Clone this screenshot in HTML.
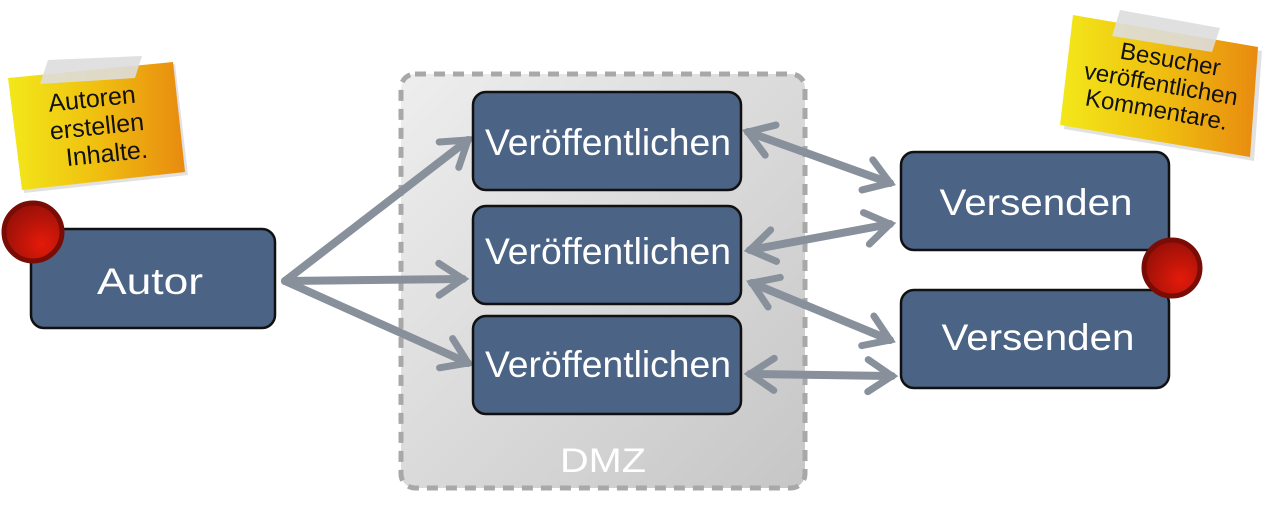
<!DOCTYPE html>
<html><head><meta charset="utf-8"><style>
html,body{margin:0;padding:0;background:#fff;width:1280px;height:511px;overflow:hidden}
svg{display:block}
text{font-family:"Liberation Sans","DejaVu Sans",sans-serif}
</style></head><body>
<svg width="1280" height="511" viewBox="0 0 1280 511" xmlns="http://www.w3.org/2000/svg">
<defs>
<linearGradient id="dmz" x1="0" y1="0" x2="1" y2="1">
<stop offset="0" stop-color="#eeeeee"/><stop offset="1" stop-color="#c6c6c6"/></linearGradient>
<linearGradient id="note" x1="0" y1="0" x2="1" y2="0">
<stop offset="0" stop-color="#f2e81a"/><stop offset="0.5" stop-color="#f0c010"/><stop offset="1" stop-color="#e88a10"/></linearGradient>
<radialGradient id="dot" cx="0.65" cy="0.7" r="0.7">
<stop offset="0" stop-color="#e41a0a"/><stop offset="1" stop-color="#9a1008"/></radialGradient>
<marker id="ah" viewBox="-30 -20 40 40" markerWidth="40" markerHeight="40" refX="0" refY="0" orient="auto-start-reverse" markerUnits="userSpaceOnUse">
<path d="M-24,-16 L0,0 L-24,16" fill="none" stroke="#87909b" stroke-width="7" stroke-linejoin="miter" stroke-linecap="round"/>
</marker>
</defs>

<rect x="401" y="74" width="404" height="414" rx="14" fill="url(#dmz)" stroke="#a8a8a8" stroke-width="5" stroke-dasharray="11 8"/>
<text x="603" y="472" font-size="34" fill="#fff" text-anchor="middle" textLength="86" lengthAdjust="spacingAndGlyphs">DMZ</text>

<g stroke="#87909b" stroke-width="8" fill="none" stroke-linecap="round">
<line x1="285" y1="281" x2="468" y2="140" marker-end="url(#ah)"/>
<line x1="285" y1="281" x2="463" y2="279" marker-end="url(#ah)"/>
<line x1="285" y1="281" x2="468" y2="363" marker-end="url(#ah)"/>
<line x1="748" y1="132" x2="890" y2="183" marker-start="url(#ah)" marker-end="url(#ah)"/>
<line x1="750" y1="250" x2="890" y2="224" marker-start="url(#ah)" marker-end="url(#ah)"/>
<line x1="752" y1="283" x2="890" y2="340" marker-start="url(#ah)" marker-end="url(#ah)"/>
<line x1="750" y1="374" x2="892" y2="376" marker-start="url(#ah)" marker-end="url(#ah)"/>
</g>

<g fill="#4b6384" stroke="#111" stroke-width="2.5">
<rect x="31" y="229" width="244" height="99" rx="13"/>
<rect x="473" y="92" width="268" height="98" rx="13"/>
<rect x="473" y="206" width="268" height="98" rx="13"/>
<rect x="473" y="316" width="268" height="98" rx="13"/>
<rect x="901" y="152" width="268" height="98" rx="13"/>
<rect x="901" y="290" width="268" height="98" rx="13"/>
</g>
<g fill="#fff" font-size="37" text-anchor="middle" lengthAdjust="spacingAndGlyphs">
<text x="150" y="294" textLength="106" lengthAdjust="spacingAndGlyphs">Autor</text>
<text x="608" y="155" textLength="246" lengthAdjust="spacingAndGlyphs">Veröffentlichen</text>
<text x="608" y="264" textLength="246" lengthAdjust="spacingAndGlyphs">Veröffentlichen</text>
<text x="608" y="377" textLength="246" lengthAdjust="spacingAndGlyphs">Veröffentlichen</text>
<text x="1036" y="215" textLength="193" lengthAdjust="spacingAndGlyphs">Versenden</text>
<text x="1038" y="350" textLength="193" lengthAdjust="spacingAndGlyphs">Versenden</text>
</g>

<circle cx="33" cy="232" r="29" fill="url(#dot)" stroke="#7a0c06" stroke-width="5"/>
<circle cx="1172" cy="268" r="28" fill="url(#dot)" stroke="#7a0c06" stroke-width="5"/>

<polygon points="10,82 175,64 188,175 24,193" fill="#aaa" opacity="0.35"/>
<polygon points="8,78 173,62 185,172 22,190" fill="url(#note)"/>
<polygon points="48,60 142,56 135,78 40,84" fill="#ddd" opacity="0.9"/>
<g transform="rotate(-6 95 128)" font-size="25" fill="#111" text-anchor="middle">
<text x="95" y="107">Autoren</text>
<text x="97" y="135">erstellen</text>
<text x="104" y="163">Inhalte.</text>
</g>

<polygon points="1077,19 1262,51 1254,161 1064,129" fill="#aaa" opacity="0.35"/>
<polygon points="1073,15 1258,47 1250,157 1060,125" fill="url(#note)"/>
<polygon points="1120,10 1220,28 1212,52 1112,36" fill="#ddd" opacity="0.9"/>
<g transform="rotate(10 1160 90)" font-size="24" fill="#111" text-anchor="middle">
<text x="1165" y="66">Besucher</text>
<text x="1160" y="92">veröffentlichen</text>
<text x="1160" y="118">Kommentare.</text>
</g>
</svg>
</body></html>
